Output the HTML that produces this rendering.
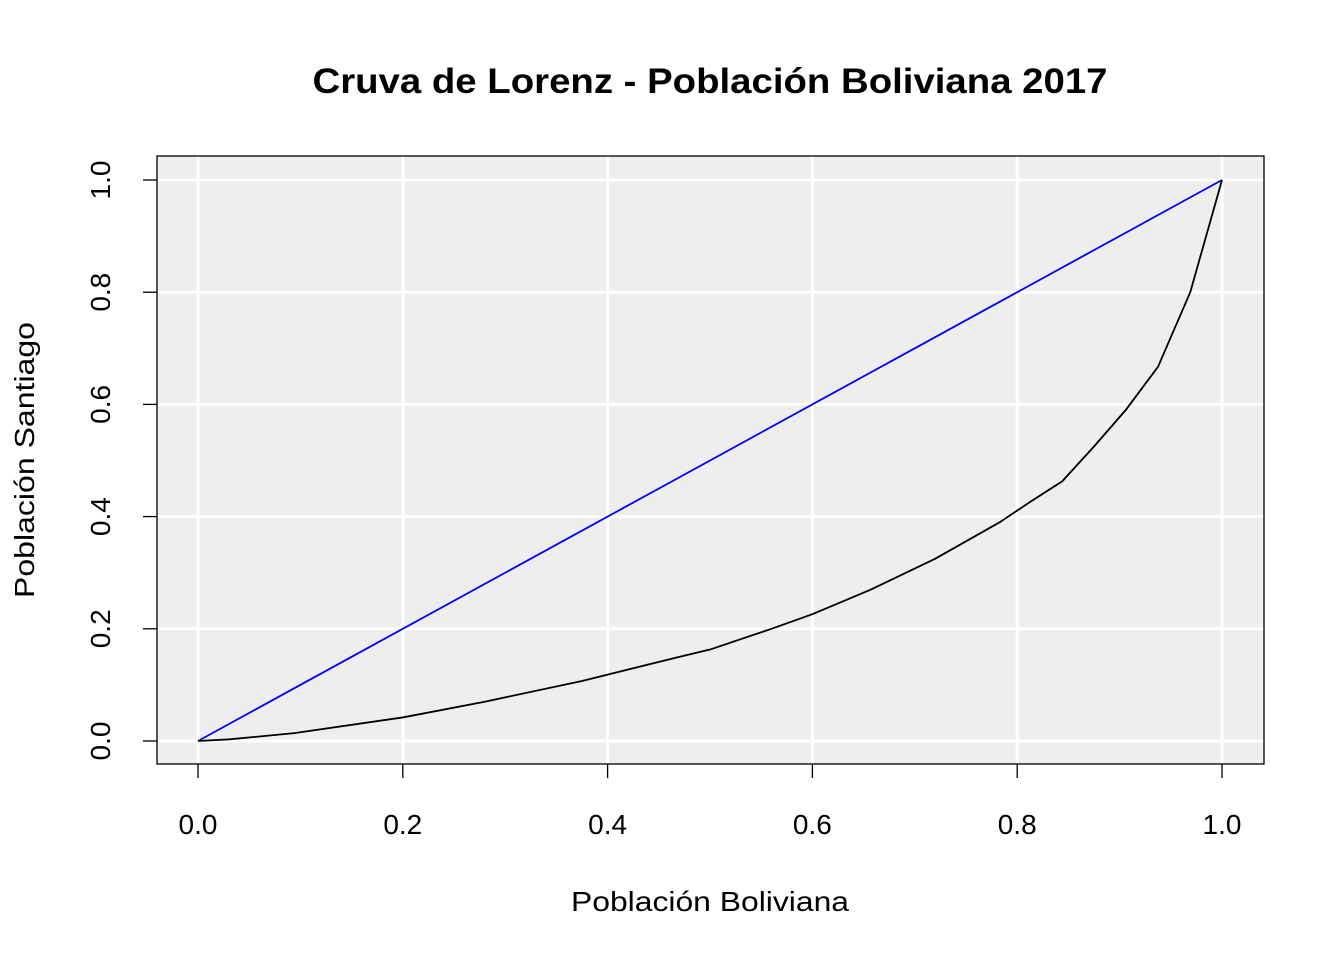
<!DOCTYPE html>
<html><head><meta charset="utf-8"><style>
body{margin:0;background:#fff;}
svg text{font-family:"Liberation Sans",Arial,sans-serif;}
</style></head><body>
<svg id="chart" width="1344" height="960">
<text x="710" y="93" text-anchor="middle" font-size="35" font-weight="bold" textLength="795" lengthAdjust="spacingAndGlyphs">Cruva de Lorenz - Población Boliviana 2017</text>
<rect x="157" y="156" width="1107" height="608" fill="#eeeeee"/>
<g id="grid"></g>
<rect x="157" y="156" width="1107" height="608" fill="none" stroke="#000" stroke-width="1.3"/>
<g id="axes"></g>
<g id="series"></g>
<text x="710" y="911" text-anchor="middle" font-size="28" textLength="278" lengthAdjust="spacingAndGlyphs">Población Boliviana</text>
<text transform="translate(34,460) rotate(-90)" text-anchor="middle" font-size="28" textLength="276" lengthAdjust="spacingAndGlyphs">Población Santiago</text>
</svg>
<script>
const xTicks=[0,0.2,0.4,0.6,0.8,1.0];
const yTicks=[0,0.2,0.4,0.6,0.8,1.0];
const lorenzX=[0,0.031,0.094,0.2,0.28,0.375,0.47,0.5,0.56,0.6,0.656,0.72,0.783,0.8125,0.844,0.875,0.906,0.9375,0.969,1];
const lorenzY=[0,0.003,0.014,0.042,0.07,0.107,0.15,0.163,0.2,0.226,0.269,0.325,0.39,0.426,0.463,0.525,0.59,0.667,0.8,1];
const equalityX=[0,1];
const equalityY=[0,1];
const NS='http://www.w3.org/2000/svg';
const sx=v=>198+v*1024, sy=v=>741-v*561;
const grid=document.getElementById('grid'),axes=document.getElementById('axes'),series=document.getElementById('series');
function mk(tag,attrs,parent){const e=document.createElementNS(NS,tag);for(const k in attrs)e.setAttribute(k,attrs[k]);parent.appendChild(e);return e;}
xTicks.forEach(t=>{
  const g=mk('line',{x1:sx(t),x2:sx(t),y1:156,y2:764,stroke:'#fff','stroke-width':3},grid);
  
  
  const tk=mk('line',{x1:sx(t),x2:sx(t),y1:764,y2:778,stroke:'#000','stroke-width':1.3},axes);
  
  
  const tx=mk('text',{x:sx(t),y:834,'text-anchor':'middle','font-size':28},axes);
  tx.textContent=t.toFixed(1);
  
  
});
yTicks.forEach(t=>{
  const g=mk('line',{x1:157,x2:1264,y1:sy(t),y2:sy(t),stroke:'#fff','stroke-width':3},grid);
  
  
  const tk=mk('line',{x1:143,x2:157,y1:sy(t),y2:sy(t),stroke:'#000','stroke-width':1.3},axes);
  
  
  const tx=mk('text',{transform:`translate(110,${sy(t)}) rotate(-90)`,'text-anchor':'middle','font-size':28},axes);
  tx.textContent=t.toFixed(1);
  
  
});
const eq=mk('polyline',{points:equalityX.map((x,i)=>sx(x)+','+sy(equalityY[i])).join(' '),fill:'none',stroke:'#0000ff','stroke-width':1.8},series);


const lc=mk('polyline',{points:lorenzX.map((x,i)=>sx(x)+','+sy(lorenzY[i])).join(' '),fill:'none',stroke:'#000','stroke-width':1.8},series);


</script>
</body></html>
